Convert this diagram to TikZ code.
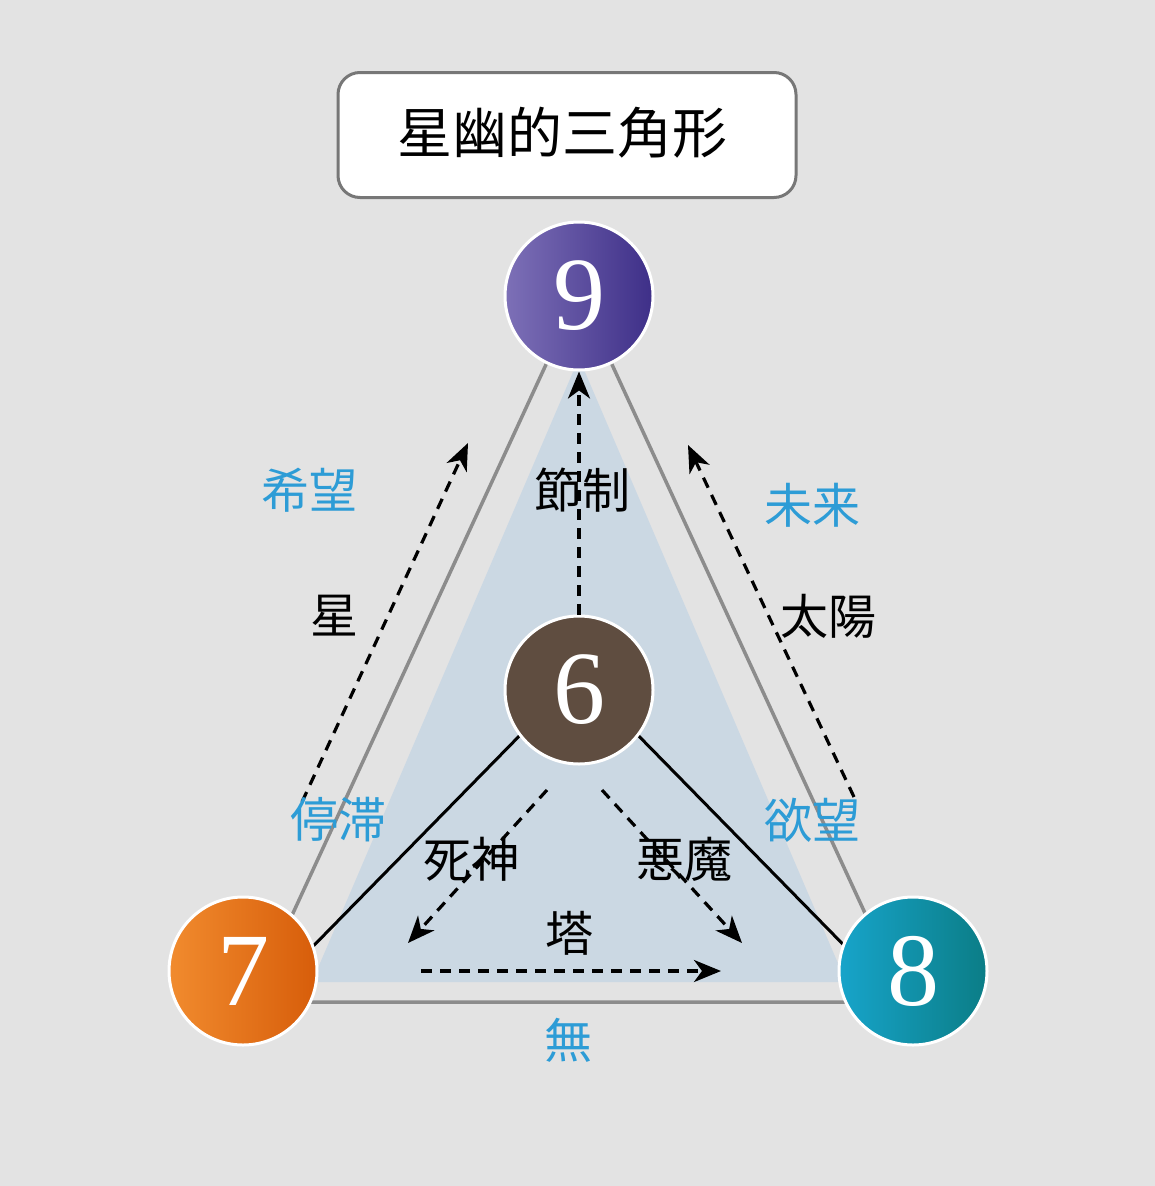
\documentclass[tikz,border=0pt]{standalone}
\usepackage{fontspec}
\newfontfamily\jp{Noto Sans CJK JP}
\newfontfamily\digitfont{Liberation Serif}
\usetikzlibrary{arrows.meta}
\definecolor{bg}{HTML}{E3E3E3}
\definecolor{tri}{HTML}{CBD8E3}
\definecolor{grayline}{HTML}{8C8C8C}
\definecolor{lblue}{HTML}{2D9CD6}
\definecolor{boxline}{HTML}{777777}
\definecolor{purpleL}{HTML}{7D70B7}
\definecolor{purpleR}{HTML}{3E2F88}
\definecolor{brown}{HTML}{5F4D40}
\definecolor{orangeL}{HTML}{F18B2E}
\definecolor{orangeR}{HTML}{D75D0A}
\definecolor{tealL}{HTML}{17A4CA}
\definecolor{tealR}{HTML}{0B7D86}
\begin{document}
\begin{tikzpicture}[x=1pt,y=-1pt,
  num/.style={circle,minimum size=148pt,inner sep=0pt,draw=white,line width=3pt,text=white,font=\digitfont\fontsize{104}{104}\selectfont},
  lbl/.style={font=\jp\fontsize{48}{48}\selectfont,text=black,inner sep=0pt},
  blbl/.style={lbl,text=lblue},
  darr/.style={draw=black,line width=3.2pt,dash pattern=on 11pt off 8pt,-{Stealth[length=27pt,width=22pt,inset=8pt]}},
  solidline/.style={draw=black,line width=3pt},
  grayedge/.style={draw=grayline,line width=3.5pt,line join=miter}
]
\useasboundingbox (0,0) rectangle (1155,1186);
\fill[bg] (0,0) rectangle (1155,1186);
% light blue inner triangle
\fill[tri] (579,358) -- (312,982) -- (846,982) -- cycle;
% gray triangle
\coordinate (gA) at (579,293);
\coordinate (gB) at (252,1002);
\coordinate (gC) at (906,1002);
\draw[grayedge] (gA) -- (gB) -- (gC) -- cycle;
% solid lines from 6
\coordinate (l6) at (582,672);
\coordinate (l7) at (280,980);
\coordinate (r6) at (576,672);
\coordinate (r8) at (878,980);
\draw[solidline] (l6) -- (l7);
\draw[solidline] (r6) -- (r8);
% circles
\node[num,left color=purpleL,right color=purpleR] (n9) at (579,296) {9};
\node[num,fill=brown] (n6) at (579,690) {6};
\node[num,left color=orangeL,right color=orangeR] (n7) at (243,971) {7};
\node[num,left color=tealL,right color=tealR] (n8) at (913,971) {8};
% dashed arrows
\draw[darr] (n6) -- (n9);
\coordinate (sL0) at (302,802);
\coordinate (sL1) at (468,443);
\draw[darr] (sL0) -- (sL1);
\coordinate (sR0) at (854,797);
\coordinate (sR1) at (688,445);
\draw[darr] (sR0) -- (sR1);
\coordinate (d70) at (547,790);
\coordinate (d71) at (408,943);
\draw[darr] (d70) -- (d71);
\coordinate (d80) at (602,790);
\coordinate (d81) at (742,943);
\draw[darr] (d80) -- (d81);
\coordinate (b0) at (421,971);
\coordinate (b1) at (721,971);
\draw[darr] (b0) -- (b1);
% labels
\node[blbl] (hope) at (309,490) {希望};
\node[lbl] (star) at (334,616) {星};
\node[lbl] (temp) at (582,490) {節制};
\node[blbl] (future) at (812,505) {未来};
\node[lbl] (sun) at (828,616) {太陽};
\node[blbl] (stag) at (338,820) {停滞};
\node[blbl] (desire) at (812,820) {欲望};
\node[lbl] (death) at (471,859) {死神};
\node[lbl] (devil) at (684,859) {悪魔};
\node[lbl] (tower) at (569,933) {塔};
\node[blbl] (none) at (568,1040) {無};
% title
\node[draw=boxline,line width=3pt,fill=white,rounded corners=22pt,minimum width=458pt,minimum height=125pt,inner sep=0pt] (titlebox) at (567,135) {};
\node[inner sep=0pt,font=\jp\fontsize{55}{55}\selectfont] (title) at (562,133) {星幽的三角形};
\end{tikzpicture}
\end{document}
